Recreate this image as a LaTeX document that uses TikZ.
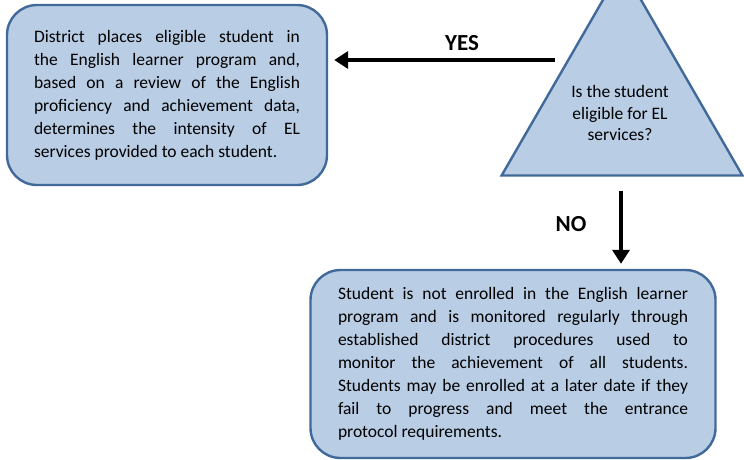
\documentclass[tikz,border=0pt]{standalone}
\usepackage{fontspec}
\setmainfont{Carlito}
\usepackage{tikz}
\usetikzlibrary{shapes.geometric,arrows.meta}
\definecolor{boxfill}{HTML}{B9CDE5}
\definecolor{boxline}{HTML}{41699A}
\tikzset{rbox/.style={rounded corners=30pt,draw=boxline,fill=boxfill,line width=2.4pt,inner sep=0pt,align=left,font=\fontsize{17.5}{23}\selectfont},
         tri/.style={regular polygon,regular polygon sides=3,draw=boxline,fill=boxfill,line width=2.4pt,inner sep=0pt,minimum size=278pt},
         tritext/.style={align=center,inner sep=0pt,font=\fontsize{17.5}{21.7}\selectfont},
         arr/.style={->,line width=4pt},
         lbl/.style={font=\bfseries\fontsize{23}{26}\selectfont}}
\newcommand{\jline}[2]{\makebox[#1][s]{#2}\\}

\begin{document}
\begin{tikzpicture}[x=1pt,y=1pt,>={Triangle[length=14pt,width=17pt]}]
    \clip (0,0) rectangle (744,-459);
    \fill[white] (0,0) rectangle (744,-459);

    \node[tri] (elig) at (622,-106) {};
    \node[tritext] (eligq) at (620,-113) {Is the student\\eligible for EL\\services?};
    \node[rbox,minimum width=320pt,minimum height=180pt] (place) at (167,-95) {%
        \parbox{266pt}{\jline{266pt}{District places eligible student in}%
        \jline{266pt}{the English learner program and,}%
        \jline{266pt}{based on a review of the English}%
        \jline{266pt}{proficiency and achievement data,}%
        \jline{266pt}{determines the intensity of EL}%
        services provided to each student.}};
    \node[rbox,minimum width=405pt,minimum height=188pt] (monitor) at (513,-364) {%
        \parbox{350pt}{\jline{350pt}{Student is not enrolled in the English learner}%
        \jline{350pt}{program and is monitored regularly through}%
        \jline{350pt}{established district procedures used to}%
        \jline{350pt}{monitor the achievement of all students.}%
        \jline{350pt}{Students may be enrolled at a later date if they}%
        \jline{350pt}{fail to progress and meet the entrance}%
        protocol requirements.}};

    \coordinate (yesfrom) at (555,-60);
    \draw[arr,shorten >=6pt] (yesfrom) -- (place.east |- yesfrom);
    \node[lbl] (yes) at (462,-43) {YES};

    \draw[arr,shorten <=14pt,shorten >=5pt] ([xshift=-1pt]elig.side 2) -- ([xshift=-1pt]elig.side 2 |- monitor.north);
    \node[lbl] (no) at (571,-224) {NO};
\end{tikzpicture}
\end{document}
